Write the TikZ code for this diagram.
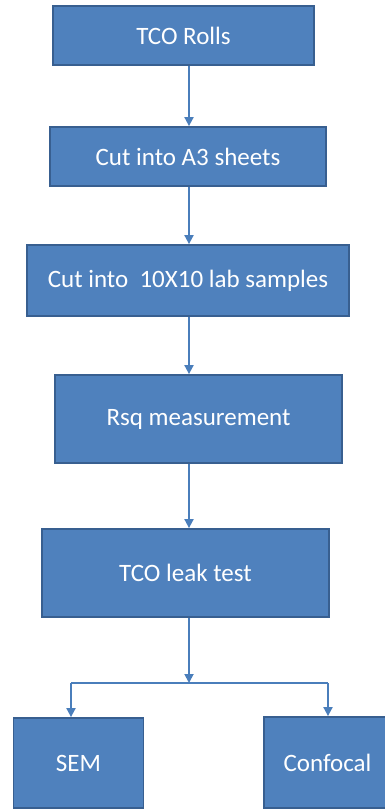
\documentclass[tikz,border=0pt]{standalone}
\usepackage{fontspec}
\setmainfont{Carlito}
\usetikzlibrary{arrows.meta}
\definecolor{boxfill}{HTML}{4F81BD}
\definecolor{boxline}{HTML}{385F90}
\definecolor{linkcol}{HTML}{4A7EBB}
\tikzset{
  stepbox/.style={draw=boxline, line width=1.8pt, fill=boxfill, text=white,
    font=\fontsize{25}{29}\selectfont, inner sep=0pt, anchor=center},
  link/.style={draw=linkcol, line width=1.8pt,
    -{Triangle[length=9pt,width=9pt]}},
  plain/.style={draw=linkcol, line width=1.8pt}
}
\begin{document}
\begin{tikzpicture}[x=1pt,y=1pt]
  \useasboundingbox (0,0) rectangle (385,-809);
  \clip (0,0) rectangle (385,-809);
  \fill[white] (0,0) rectangle (385,-809);

  % process steps
  \node[stepbox, minimum width=261, minimum height=59] (rolls) at (183.5,-35.5) {TCO Rolls};
  \node[stepbox, minimum width=276, minimum height=59] (sheets) at (188,-156.5) {Cut into A3 sheets};
  \node[stepbox, minimum width=322, minimum height=71] (samples) at (188,-280.5) {Cut into\ \ 10X10 lab samples};
  \node[stepbox, minimum width=287, minimum height=88] (rsq) at (198.5,-419) {Rsq measurement};
  \node[stepbox, minimum width=287, minimum height=88] (leak) at (185.5,-573) {TCO leak test};
  \node[stepbox, minimum width=130, minimum height=90] (sem) at (78.5,-763) {SEM};
  \node[stepbox, minimum width=127, minimum height=91] (conf) at (327.5,-762.5) {Confocal};

  % branch points
  \coordinate (split) at (189,-683);
  \coordinate (lft) at (71,-683);
  \coordinate (rgt) at (328,-683);

  % connectors
  \draw[link] (rolls.south -| 189,0) -- (sheets.north -| 189,0);
  \draw[link] (sheets.south -| 189,0) -- (samples.north -| 189,0);
  \draw[link] (samples.south -| 189,0) -- (rsq.north -| 189,0);
  \draw[link] (rsq.south -| 189,0) -- (leak.north -| 189,0);
  \draw[link] (leak.south -| 189,0) -- (split);
  \draw[plain] (lft) -- (rgt);
  \draw[link] (lft) -- (sem.north -| lft);
  \draw[link] (rgt) -- (conf.north -| rgt);
\end{tikzpicture}
\end{document}
